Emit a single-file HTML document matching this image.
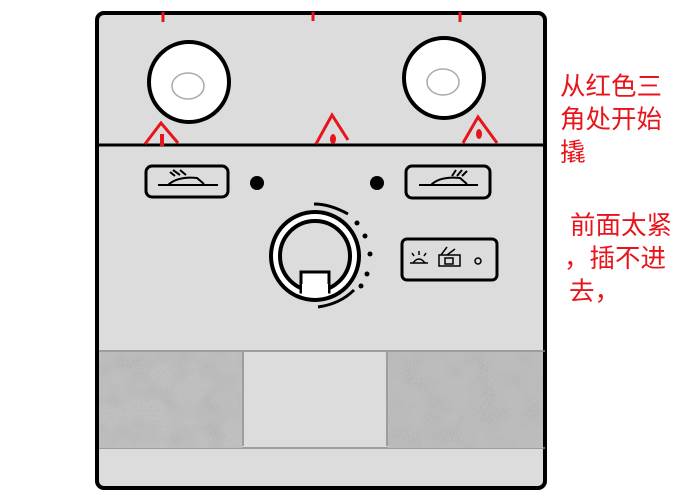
<!DOCTYPE html>
<html><head><meta charset="utf-8"><style>
html,body{margin:0;padding:0;background:#fff;width:700px;height:497px;overflow:hidden}
svg{display:block}
text{font-family:"Liberation Sans","Noto Sans CJK SC",sans-serif;fill:#e8141c;font-size:25.5px}
</style></head><body>
<svg width="700" height="497" viewBox="0 0 700 497" xmlns="http://www.w3.org/2000/svg">
<defs>
<filter id="n" x="0" y="0" width="100%" height="100%">
<feTurbulence type="fractalNoise" baseFrequency="0.6" numOctaves="3" seed="3" result="t"/>
<feColorMatrix type="matrix" values="0 0 0 0 0.5  0 0 0 0 0.5  0 0 0 0 0.5  5 0 0 0 -1.9"/>
</filter>
<filter id="b" x="0" y="0" width="100%" height="100%">
<feTurbulence type="fractalNoise" baseFrequency="0.04" numOctaves="2" seed="7"/>
<feColorMatrix type="matrix" values="0 0 0 0 0.45  0 0 0 0 0.45  0 0 0 0 0.45  3 0 0 0 -1.2"/>
</filter>
</defs>
<rect x="97" y="13" width="448" height="475" rx="7" fill="#dcdcdc" stroke="#000" stroke-width="4"/>
<line x1="95" y1="145" x2="546" y2="145" stroke="#000" stroke-width="3"/>
<g stroke="#e8141c" stroke-width="3">
<line x1="163" y1="12" x2="163" y2="22"/><line x1="313" y1="12" x2="313" y2="21"/><line x1="460" y1="12" x2="460" y2="22"/>
</g>
<circle cx="189" cy="82" r="40" fill="#fff" stroke="#000" stroke-width="4"/>
<ellipse cx="188" cy="86" rx="16" ry="13" fill="none" stroke="#aaa" stroke-width="1.5"/>
<circle cx="444" cy="78" r="40" fill="#fff" stroke="#000" stroke-width="4"/>
<ellipse cx="443" cy="82" rx="16" ry="13" fill="none" stroke="#aaa" stroke-width="1.5"/>
<g fill="none" stroke="#e8141c" stroke-width="3">
<polyline points="145,144 161,123 178,143"/>
<polyline points="316,144 332,115 348,140"/>
<polyline points="463,143 478,117 497,143"/>
</g>
<g fill="#e8141c">
<rect x="160" y="134" width="4" height="12"/>
<ellipse cx="333" cy="139" rx="3" ry="5"/>
<ellipse cx="479" cy="134" rx="3" ry="5"/>
</g>
<rect x="146" y="166" width="82" height="31" rx="6" fill="none" stroke="#000" stroke-width="3"/>
<g stroke="#000" stroke-width="2" fill="none">
<line x1="158" y1="185" x2="218" y2="185"/><path d="M168,185 Q178,176 197,178 L204,184"/>
<line x1="170" y1="172" x2="175" y2="176"/><line x1="173" y1="170" x2="180" y2="175"/><line x1="180" y1="170" x2="186" y2="175"/>
</g>
<rect x="406" y="166" width="84" height="32" rx="6" fill="none" stroke="#000" stroke-width="3"/>
<g stroke="#000" stroke-width="2" fill="none">
<line x1="419" y1="185" x2="478" y2="185"/><path d="M431,185 Q440,176 460,178 L467,184"/>
<line x1="452" y1="176" x2="456" y2="170"/><line x1="457" y1="176" x2="462" y2="170"/><line x1="462" y1="176" x2="467" y2="171"/>
</g>
<circle cx="257" cy="183" r="7" fill="#000"/><circle cx="377" cy="183" r="7" fill="#000"/>
<circle cx="315" cy="256" r="44" fill="#fff" stroke="#000" stroke-width="4"/>
<circle cx="315" cy="256" r="35" fill="#dcdcdc" stroke="#000" stroke-width="4"/>
<rect x="301" y="272" width="28" height="20" fill="#fff" stroke="#000" stroke-width="3"/>
<rect x="302" y="284" width="26" height="12" fill="#fff"/>
<g stroke="#000" stroke-width="3" fill="none">
<path d="M314,204 Q330,204 348,214"/>
<path d="M318,307 Q340,304 354,290"/>
</g>
<g fill="#000"><circle cx="357" cy="223" r="2.5"/><circle cx="365" cy="236" r="2.5"/><circle cx="370" cy="254" r="2.5"/><circle cx="367" cy="274" r="2.5"/><circle cx="361" cy="286" r="2.5"/></g>
<rect x="402" y="239" width="95" height="41" rx="5" fill="none" stroke="#000" stroke-width="3"/>
<g stroke="#000" stroke-width="1.5" fill="none">
<line x1="410" y1="263" x2="428" y2="263"/><path d="M413,263 Q419,255 425,263"/>
<line x1="419" y1="251" x2="419" y2="255"/><line x1="412" y1="253" x2="414" y2="256"/><line x1="426" y1="253" x2="424" y2="256"/>
<rect x="439" y="255" width="21" height="11"/><rect x="445" y="258" width="8" height="6"/>
<line x1="441" y1="255" x2="447" y2="247"/><line x1="447" y1="255" x2="455" y2="249"/>
<circle cx="478" cy="261" r="3"/>
</g>
<line x1="99" y1="351" x2="545" y2="351" stroke="#888" stroke-width="1.5"/>
<line x1="99" y1="448" x2="545" y2="448" stroke="#888" stroke-width="1.5"/>
<rect x="99" y="352" width="143" height="96" fill="#c2c2c2"/>
<rect x="99" y="352" width="143" height="96" fill="#666" filter="url(#b)"/>
<rect x="99" y="352" width="143" height="96" fill="#6e6e6e" filter="url(#n)"/>
<rect x="388" y="352" width="155" height="96" fill="#bcbcbc"/>
<rect x="388" y="352" width="155" height="96" fill="#666" filter="url(#b)"/>
<rect x="388" y="352" width="155" height="96" fill="#6e6e6e" filter="url(#n)"/>
<line x1="243" y1="352" x2="243" y2="446" stroke="#888" stroke-width="1.5"/>
<line x1="387" y1="352" x2="387" y2="446" stroke="#888" stroke-width="1.5"/>
<text x="560" y="95">从红色三</text>
<text x="560" y="128">角处开始</text>
<text x="560" y="161">撬</text>
<text x="570" y="234">前面太紧</text>
<text x="564" y="267">，插不进</text>
<text x="569" y="300">去，</text>
</svg>
</body></html>
